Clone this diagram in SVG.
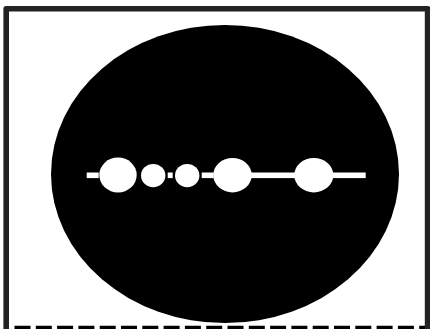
<svg xmlns="http://www.w3.org/2000/svg" width="430" height="329" viewBox="0 0 430 329">
<style>
.frame{fill:none;stroke:#232323;stroke-width:5.6;stroke-linejoin:round}
.dash{stroke:#000;stroke-width:3.6;stroke-dasharray:16 5.3}
.bar{fill:#fff}
.hole{fill:#fff}
</style>
<rect width="430" height="329" fill="#fff"/>
<path class="frame" d="M6.2,329 V8.8 H427.6 V329"/>
<line class="dash" x1="14.5" y1="327.5" x2="425" y2="327.5"/>
<g id="disc"><ellipse cx="225" cy="174" rx="174" ry="149" fill="#000"/></g>
<g id="connectors">
<rect class="bar" x="86.7" y="172.5" width="12" height="5.6"/>
<rect class="bar" x="167.7" y="172.5" width="5" height="5.6"/>
<rect class="bar" x="201.7" y="172.5" width="12" height="5.6"/>
<rect class="bar" x="251" y="172.5" width="44" height="5.6"/>
<rect class="bar" x="333" y="172.5" width="32.7" height="5.6"/>
</g>
<g id="n1"><ellipse class="hole" cx="118" cy="175" rx="18.7" ry="17.5"/></g>
<g id="n2"><ellipse class="hole" cx="153.2" cy="175.6" rx="12.2" ry="11.7"/></g>
<g id="n3"><ellipse class="hole" cx="187.2" cy="175.6" rx="12.2" ry="11.7"/></g>
<g id="n4"><ellipse class="hole" cx="232.5" cy="175.2" rx="19.2" ry="17.2"/></g>
<g id="n5"><ellipse class="hole" cx="313.8" cy="175.2" rx="19.5" ry="17.2"/></g>
</svg>
